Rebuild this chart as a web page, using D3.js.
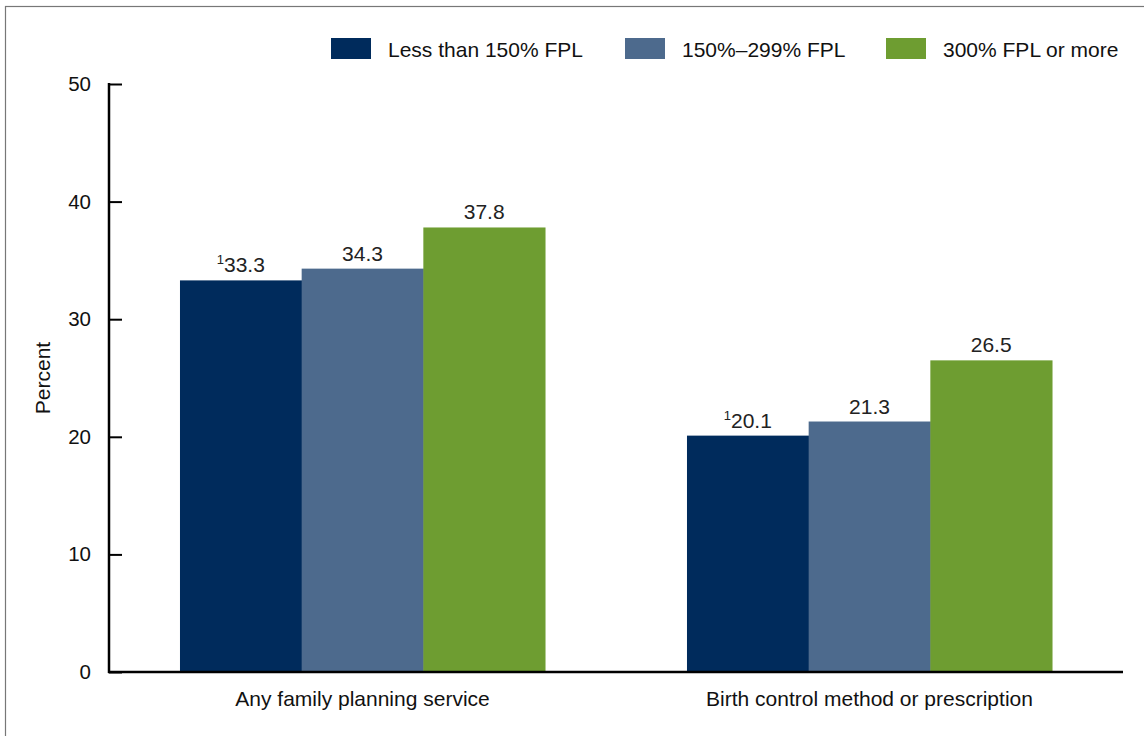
<!DOCTYPE html>
<html>
<head>
<meta charset="utf-8">
<script src="https://cdn.jsdelivr.net/npm/d3@7"></script>
<style>
  html, body { margin: 0; padding: 0; background: #fff; }
  svg { display: block; font-family: Arial, "Liberation Sans", sans-serif; }
</style>
</head>
<body>
<svg id="chart" width="1144" height="736"></svg>
<script>
const categories = ["Any family planning service", "Birth control method or prescription"];
const seriesNames = ["Less than 150% FPL", "150%\u2013299% FPL", "300% FPL or more"];
const seriesColors = ["#002B5C", "#4D6A8D", "#6E9D31"];
const lowIncome = [33.3, 20.1];
const midIncome = [34.3, 21.3];
const highIncome = [37.8, 26.5];
const footnoteFlags = [[true, true], [false, false], [false, false]];
const yTicks = [0, 10, 20, 30, 40, 50];
const yLabel = "Percent";

const seriesValues = [lowIncome, midIncome, highIncome];

const svg = d3.select("#chart");
const W = 1144, H = 736;
const FS = 21;

// frame
svg.append("rect").attr("x", 5.5).attr("y", 6.5).attr("width", W).attr("height", H)
  .attr("fill", "none").attr("stroke", "#777").attr("stroke-width", 1.2);

const x0 = 109, x1 = 1123, yTop = 84, yBot = 672;

const y = d3.scaleLinear().domain([0, 50]).range([yBot, yTop]);
const xBand = d3.scaleBand().domain(categories).range([x0, x1]).paddingInner(0.28).paddingOuter(0.14);
const xSub = d3.scaleBand().domain(d3.range(seriesNames.length)).range([0, xBand.bandwidth()]);

// bars
seriesValues.forEach((vals, si) => {
  const g = svg.append("g");
  categories.forEach((c, ci) => {
    const v = vals[ci];
    const bx = xBand(c) + xSub(si);
    g.append("rect")
      .attr("x", bx).attr("y", y(v))
      .attr("width", xSub.bandwidth() + 0.5).attr("height", yBot - y(v))
      .attr("fill", seriesColors[si]);
    const t = g.append("text")
      .attr("x", bx + xSub.bandwidth() / 2)
      .attr("y", y(v) - 8)
      .attr("text-anchor", "middle")
      .attr("font-size", FS)
      .attr("fill", "#222");
    if (footnoteFlags[si][ci]) {
      t.append("tspan").attr("font-size", 13).attr("dy", -8).text("1");
      t.append("tspan").attr("dy", 8).text(v.toFixed(1));
    } else {
      t.text(v.toFixed(1));
    }
  });
});

// y axis
const yAxis = d3.axisRight(y).tickValues(yTicks).tickSize(13).tickFormat(d3.format("d"));
const ya = svg.append("g").attr("transform", `translate(${x0},0)`).call(yAxis);
ya.select(".domain").remove();
ya.selectAll(".tick line").attr("stroke", "#000").attr("stroke-width", 2);
ya.selectAll(".tick text").attr("x", -18).attr("text-anchor", "end")
  .attr("font-size", FS - 0.5).attr("fill", "#111").attr("font-family", "Arial, 'Liberation Sans', sans-serif");
svg.append("line").attr("x1", x0).attr("x2", x0).attr("y1", yTop - 1).attr("y2", yBot + 1)
  .attr("stroke", "#000").attr("stroke-width", 2.5);

// x axis
const xAxis = d3.axisBottom(xBand).tickSize(0).tickPadding(0);
const xa = svg.append("g").attr("transform", `translate(0,${yBot})`).call(xAxis);
xa.select(".domain").remove();
xa.selectAll(".tick text").attr("dy", null).attr("y", 34)
  .attr("font-size", FS).attr("fill", "#111").attr("font-family", "Arial, 'Liberation Sans', sans-serif");
svg.append("line").attr("x1", x0 - 1).attr("x2", x1).attr("y1", yBot).attr("y2", yBot)
  .attr("stroke", "#000").attr("stroke-width", 2.5);

// y label
svg.append("text").attr("transform", `translate(50,378) rotate(-90)`)
  .attr("text-anchor", "middle").attr("font-size", FS).attr("fill", "#111").text(yLabel);

// legend
const legendX = [331, 625, 886];
seriesNames.forEach((n, i) => {
  svg.append("rect").attr("x", legendX[i]).attr("y", 38).attr("width", 40).attr("height", 21)
    .attr("fill", seriesColors[i]);
  svg.append("text").attr("x", legendX[i] + 57).attr("y", 57)
    .attr("font-size", FS).attr("fill", "#111").text(n);
});
</script>
</body>
</html>
